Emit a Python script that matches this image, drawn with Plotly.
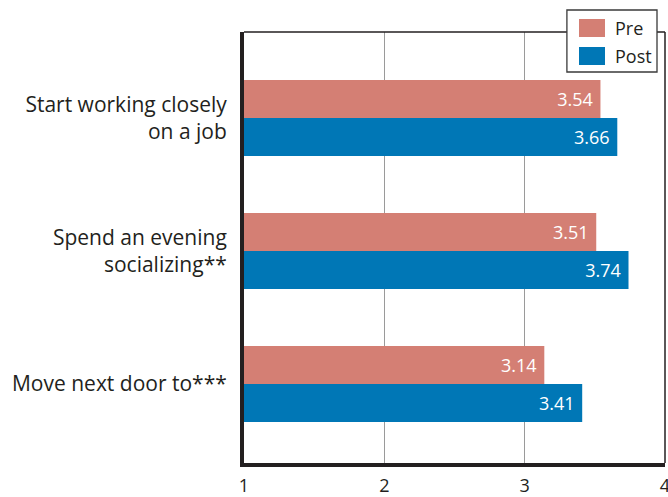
import plotly.graph_objects as go

categories = ["Start working closely<br>on a job", "Spend an evening<br>socializing**", "Move next door to***"]
pre_values = [3.54, 3.51, 3.14]
post_values = [3.66, 3.74, 3.41]
x_ticks = [1, 2, 3, 4]
series_names = ["Pre", "Post"]

PRE_COLOR = "#D47F74"
POST_COLOR = "#0077B6"
TEXT_COLOR = "#231F20"
FONT = "Open Sans"

fig = go.Figure()
for name, vals, color in [(series_names[0], pre_values, PRE_COLOR),
                          (series_names[1], post_values, POST_COLOR)]:
    fig.add_trace(go.Bar(
        name=name, y=categories, x=vals, orientation="h",
        marker=dict(color=color, line=dict(width=0)),
        text=[f"{v:.2f}\u00a0" for v in vals], textposition="inside",
        insidetextanchor="end", textangle=0,
        textfont=dict(color="white", size=18, family=FONT),
        showlegend=False,
    ))

fig.update_layout(
    width=668, height=497,
    margin=dict(l=244, r=3, t=32, b=34, autoexpand=False),
    paper_bgcolor="white", plot_bgcolor="white",
    barmode="group", bargap=0.429, bargroupgap=0,
    font=dict(family=FONT, color=TEXT_COLOR),
    showlegend=False,
    uniformtext=dict(mode="show", minsize=10),
)
fig.update_xaxes(
    range=[1, 4], tickvals=x_ticks, ticktext=[str(t) for t in x_ticks],
    showgrid=True, gridcolor="#9A9A9A", gridwidth=1,
    showline=True, linecolor=TEXT_COLOR, linewidth=4,
    ticks="", tickfont=dict(size=18, family=FONT, color=TEXT_COLOR),
    ticklabeloverflow="allow", ticklabelstandoff=3,
    zeroline=False,
)
fig.update_yaxes(
    type="category", range=[2.594, -0.647],
    showgrid=False, showline=True, linecolor=TEXT_COLOR, linewidth=4,
    ticks="outside", ticklen=9, tickcolor="rgba(0,0,0,0)",
    tickfont=dict(size=21, family=FONT, color=TEXT_COLOR),
    zeroline=False,
)
# thin top and right frame lines
fig.add_shape(type="line", xref="paper", yref="paper", x0=0, x1=1, y0=1, y1=1,
              line=dict(color=TEXT_COLOR, width=1.5))
fig.add_shape(type="line", xref="paper", yref="paper", x0=1, x1=1, y0=0, y1=1,
              line=dict(color=TEXT_COLOR, width=1.5))

# custom legend box
fig.add_shape(type="rect", xref="paper", yref="paper", x0=0.767, x1=0.981, y0=0.9072, y1=1.0510,
              fillcolor="white", line=dict(color="#3A3A3A", width=1.3))
fig.add_shape(type="rect", xref="paper", yref="paper", x0=0.7957, x1=0.8575, y0=0.9884, y1=1.0302,
              fillcolor=PRE_COLOR, line=dict(width=0))
fig.add_shape(type="rect", xref="paper", yref="paper", x0=0.7957, x1=0.8575, y0=0.9234, y1=0.9652,
              fillcolor=POST_COLOR, line=dict(width=0))
for label, yc in [(series_names[0], 1.0093), (series_names[1], 0.9443)]:
    fig.add_annotation(text=label, xref="paper", yref="paper", x=0.8765, y=yc,
                       xanchor="left", yanchor="middle", showarrow=False,
                       font=dict(size=18, family=FONT, color=TEXT_COLOR))

fig.write_html(
    "out.html",
    config={"displayModeBar": False},
    post_script="document.body.style.margin='0';document.body.style.overflow='hidden';",
)
